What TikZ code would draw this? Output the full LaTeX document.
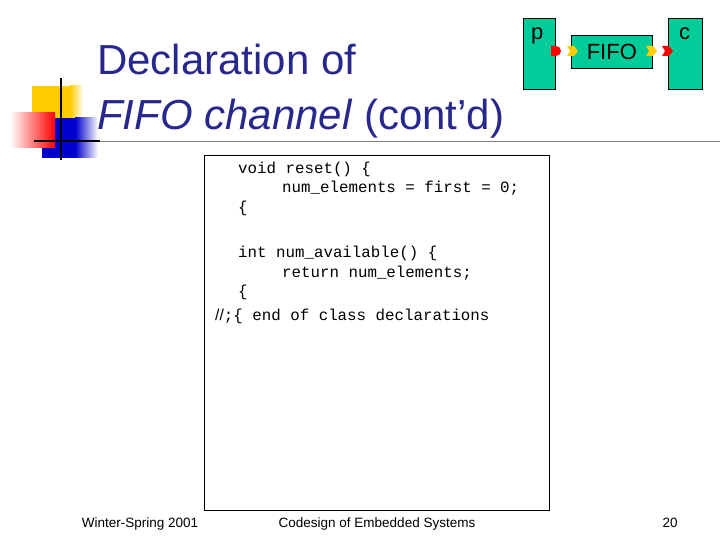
\documentclass[tikz,border=0pt]{standalone}
\usepackage{fontspec}
\setmainfont{Liberation Sans}
\newfontfamily\codefont{Liberation Mono}
\usetikzlibrary{shapes.geometric}
\definecolor{teal1}{RGB}{0,204,153}
\definecolor{navy1}{RGB}{40,40,140}
\definecolor{ylw}{RGB}{255,204,0}
\begin{document}
\begin{tikzpicture}[x=1pt,y=-1pt,
  box/.style={draw=black,fill=teal1,line width=0.6pt},
  codeline/.style={anchor=base west,inner sep=0,font=\codefont\fontsize{15.8}{15.8}\selectfont},
  foot/.style={anchor=base,inner sep=0,font=\fontsize{13.5}{13.5}\selectfont},
  ttl/.style={anchor=base west,inner sep=0,text=navy1,font=\fontsize{42}{42}\selectfont}]
\useasboundingbox (0,0) rectangle (720,540);
% logo
\fill[ylw] (32,86) rectangle (70,120);
\shade[left color=ylw,right color=white] (70,86) rectangle (83,120);
\fill[blue!80!black] (42,118) rectangle (75,158);
\shade[left color=blue!80!black,right color=white] (75,118) rectangle (98,158);
\shade[left color=white,right color=red] (10,113) rectangle (55,148);
\draw[line width=2pt] (61,78) -- (61,160);
\draw[line width=2pt] (34,141) -- (100,141);
\draw[line width=0.8pt,gray] (100,141) -- (720,141);
% title
\node[ttl] (t1) at (97,75) {Declaration of};
\node[ttl] (t2) at (97,130) {\textit{FIFO channel} (cont’d)};
% process diagram
\node[box,minimum width=32,minimum height=71,anchor=north west,inner sep=0] (p) at (523,18) {};
\node[anchor=north west,inner sep=0,font=\fontsize{22}{22}\selectfont] (pl) at (531,27) {p};
\node[box,minimum width=81,minimum height=33,anchor=north west,inner sep=0,font=\fontsize{22}{22}\selectfont] (f) at (571,35) {FIFO};
\node[box,minimum width=34,minimum height=71,anchor=north west,inner sep=0] (c) at (668,18) {};
\node[anchor=north west,inner sep=0,font=\fontsize{22}{22}\selectfont] (cl) at (679,27) {c};
\fill[red] (551,46) -- (556,46) arc (-90:90:5) -- (551,56) -- cycle;
\fill[ylw] (567,46) -- (574,46) -- (578,51) -- (574,56) -- (567,56) -- (570,51) -- cycle;
\fill[ylw] (646,46) -- (653,46) -- (657,51) -- (653,56) -- (646,56) -- (649,51) -- cycle;
\fill[red] (662,46) -- (669,46) -- (673,51) -- (669,56) -- (662,56) -- (665,51) -- cycle;
% code box
\node[draw=black,line width=0.8pt,minimum width=345,minimum height=355,anchor=north west,inner sep=0] (code) at (204,155) {};
\node[codeline] (l1) at (238,174) {void reset() \{};
\node[codeline] (l2) at (282,193) {num\_elements = first = 0;};
\node[codeline] (l3) at (238,212) {\{};
\node[codeline] (l4) at (238,258) {int num\_available() \{};
\node[codeline] (l5) at (282,277) {return num\_elements;};
\node[codeline] (l6) at (238,296) {\{};
\node[codeline] (l7) at (215,320) {{\rmfamily //};\{ end of class declarations};
% footer
\node[foot] (f1) at (140,527) {Winter-Spring 2001};
\node[foot] (f2) at (377,527) {Codesign of Embedded Systems};
\node[foot] (f3) at (670,527) {20};
\end{tikzpicture}
\end{document}
